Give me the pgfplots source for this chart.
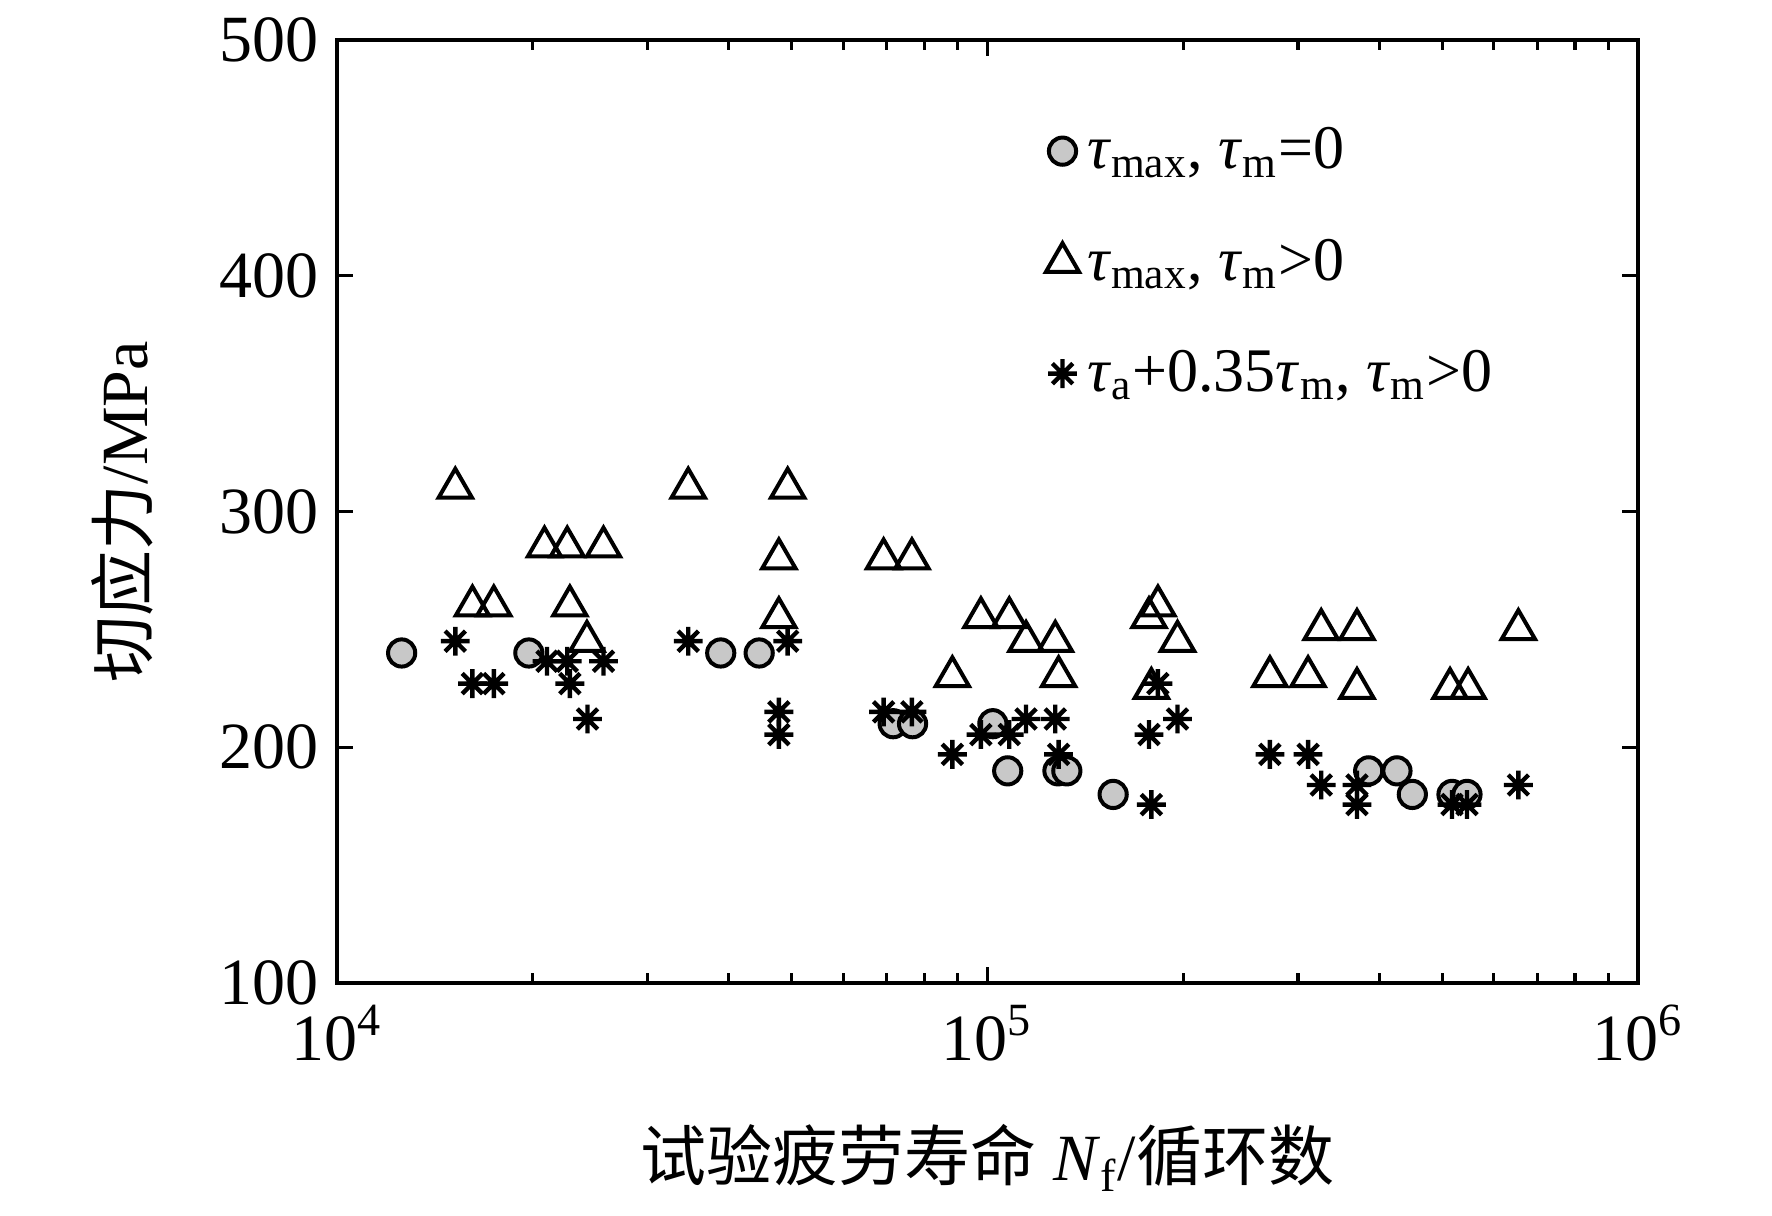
\documentclass[border=0pt]{standalone}
\usepackage{pgfplots}
\pgfplotsset{compat=1.18}
\usepackage{fontspec}
\setmainfont{Liberation Serif}
\newfontfamily\cjk{Noto Sans CJK SC}
\definecolor{mkgray}{RGB}{200,200,200}
\pgfdeclareplotmark{ast8}{%
 \pgfpathmoveto{\pgfqpoint{-\pgfplotmarksize}{0pt}}\pgfpathlineto{\pgfqpoint{\pgfplotmarksize}{0pt}}%
 \pgfpathmoveto{\pgfqpoint{0pt}{-\pgfplotmarksize}}\pgfpathlineto{\pgfqpoint{0pt}{\pgfplotmarksize}}%
 \pgfpathmoveto{\pgfqpoint{-.7071\pgfplotmarksize}{-.7071\pgfplotmarksize}}\pgfpathlineto{\pgfqpoint{.7071\pgfplotmarksize}{.7071\pgfplotmarksize}}%
 \pgfpathmoveto{\pgfqpoint{-.7071\pgfplotmarksize}{.7071\pgfplotmarksize}}\pgfpathlineto{\pgfqpoint{.7071\pgfplotmarksize}{-.7071\pgfplotmarksize}}%
 \pgfusepathqstroke}
\begin{document}
\begin{tikzpicture}
\begin{axis}[
 xmode=log, scale only axis, width=325.25pt, height=235.75pt,
 xmin=1e4, xmax=1e6, ymin=100, ymax=500,
 xtick={1e4,1e5,1e6},
 xticklabels={10\textsuperscript{4},10\textsuperscript{5},10\textsuperscript{6}},
 minor xtick={2e4,3e4,4e4,5e4,6e4,7e4,8e4,9e4,2e5,3e5,4e5,5e5,6e5,7e5,8e5,9e5},
 ytick={100,200,300,400,500},
 tick align=inside, xtick pos=both, ytick pos=both,
 major tick length=4pt, minor tick length=2.5pt,
 axis line style={line width=0.8pt},
 every tick/.style={line width=0.8pt, black},
 ticklabel style={font=\fontsize{16.5}{19}\selectfont},
 yticklabel style={/pgf/number format/assume math mode=true, xshift=-1pt},
 xticklabel style={yshift=-2pt},
 xlabel={{\cjk 试验疲劳寿命} \textit{N}\textsubscript{f}/{\cjk 循环数}},
 ylabel={{\cjk 切应力}/MPa},
 xlabel style={at={(axis description cs:0.5,-0.1856)}, anchor=center, font=\fontsize{16.5}{19}\selectfont},
 ylabel style={at={(axis description cs:-0.165,0.5)}, anchor=center, rotate=0, font=\fontsize{16.5}{19}\selectfont},
 legend style={draw=none, fill=none, at={(axis description cs:0.535,0.925)}, anchor=north west,
   font=\fontsize{15.5}{18}\selectfont, row sep=12pt, legend cell align=left},
 legend cell align=left,
]
\addplot[only marks, mark=*, mark size=3.4pt, mark options={fill=mkgray, draw=black, line width=1pt}] coordinates {
(12570,240) (19720,240) (38900,240) (44560,240)
(71600,210) (76700,210) (101900,210) (107400,190)
(128300,190) (132400,190) (156000,180)
(385400,190) (426000,190) (449800,180) (517600,180) (545800,180)
};
\addlegendentry{\textit{τ}\textsubscript{max}, \textit{τ}\textsubscript{m}=0}
\addplot[only marks, mark=triangle, mark size=4.8pt, mark options={draw=black, line width=1pt}] coordinates {
(15200,310) (16150,260) (17420,260) (20840,285) (22590,285) (25680,285)
(22800,260) (24220,245) (34670,310) (47780,280) (49290,310) (47780,255)
(69220,280) (76530,280) (88290,230) (97680,255) (108000,255)
(114600,245) (127100,245) (128600,230)
(177100,255) (182800,260) (178600,225) (195900,245)
(271700,230) (311000,230) (325800,250) (369800,250) (369800,225)
(514000,225) (548000,225) (654700,250)
};
\addlegendentry{\textit{τ}\textsubscript{max}, \textit{τ}\textsubscript{m}>0}
\addplot[only marks, mark=ast8, mark size=3.6pt, mark options={draw=black, line width=1.1pt}] coordinates {
(15200,245) (16150,227) (17420,227) (21030,236.5) (22590,236.5) (22800,227)
(25680,236.5) (24270,212) (34670,245) (49290,245) (47780,215) (47780,205.4)
(69220,215) (76530,215) (88290,197) (97680,205.4) (108000,205.4)
(114600,212) (127100,212) (128600,197)
(177100,205.4) (182800,227) (178600,175.7) (195900,212)
(271700,197) (311000,197) (325800,184) (369800,184) (369800,175.7)
(517600,175.7) (545800,175.7) (654700,184)
};
\addlegendentry{\textit{τ}\textsubscript{a}+0.35\textit{τ}\textsubscript{m}, \textit{τ}\textsubscript{m}>0}
\end{axis}
\pgfresetboundingbox
\path[use as bounding box] (-84.25pt,-58pt) rectangle (358.75pt,245.75pt);
\end{tikzpicture}
\end{document}
